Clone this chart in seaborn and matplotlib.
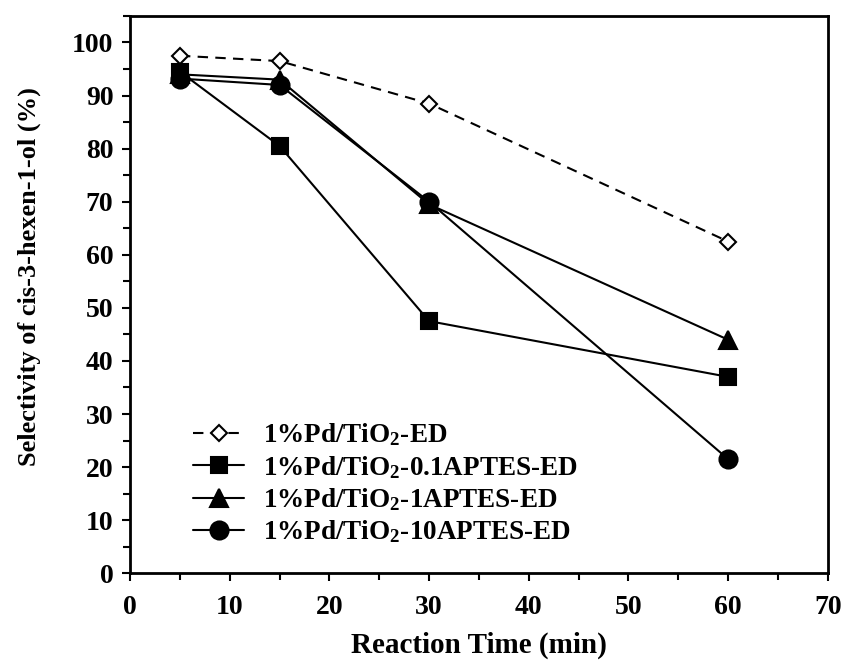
import numpy as np
import pandas as pd
import matplotlib
matplotlib.use("Agg")
import matplotlib.pyplot as plt
import seaborn as sns
from matplotlib.ticker import MultipleLocator

# Reaction times (min)
time_min = [5, 15, 30, 60]

# Selectivity of cis-3-hexen-1-ol (%) for each catalyst
sel_ed = [97.5, 96.5, 88.5, 62.5]
sel_01aptes = [94.5, 80.5, 47.5, 37.0]
sel_1aptes = [94.0, 93.0, 69.5, 44.0]
sel_10aptes = [93.2, 92.0, 70.0, 21.5]

series_labels = [
    "1%Pd/TiO$_\\mathbf{2}$-ED",
    "1%Pd/TiO$_\\mathbf{2}$-0.1APTES-ED",
    "1%Pd/TiO$_\\mathbf{2}$-1APTES-ED",
    "1%Pd/TiO$_\\mathbf{2}$-10APTES-ED",
]

x_ticks = [0, 10, 20, 30, 40, 50, 60, 70]
y_ticks = [0, 10, 20, 30, 40, 50, 60, 70, 80, 90, 100]

df = pd.DataFrame({
    "time": time_min * 4,
    "selectivity": sel_ed + sel_01aptes + sel_1aptes + sel_10aptes,
    "catalyst": sum([[lab] * len(time_min) for lab in series_labels], []),
})

sns.set_style("ticks", {"axes.edgecolor": "black", "text.color": "black",
                        "axes.labelcolor": "black", "xtick.color": "black",
                        "ytick.color": "black"})
plt.rcParams["font.family"] = ["Liberation Serif", "DejaVu Serif"]
plt.rcParams["mathtext.fontset"] = "custom"
plt.rcParams["mathtext.rm"] = "Liberation Serif:bold"
plt.rcParams["mathtext.bf"] = "Liberation Serif:bold"
plt.rcParams["mathtext.it"] = "Liberation Serif:bold"

fig, ax = plt.subplots(figsize=(8.56, 6.65), dpi=100)
fig.subplots_adjust(left=0.152, right=0.967, top=0.976, bottom=0.138)

styles = {
    series_labels[0]: dict(marker="D", ls=(0, (5, 3.5)), mfc="white", ms=8.5),
    series_labels[1]: dict(marker="s", ls="-", mfc="black", ms=11.5),
    series_labels[2]: dict(marker="^", ls="-", mfc="black", ms=13.5),
    series_labels[3]: dict(marker="o", ls="-", mfc="black", ms=13),
}

for lab in series_labels:
    sub = df[df["catalyst"] == lab]
    st = styles[lab]
    sns.lineplot(data=sub, x="time", y="selectivity", ax=ax, color="black",
                 marker=st["marker"], markersize=st["ms"], markerfacecolor=st["mfc"],
                 markeredgecolor="black", markeredgewidth=1.5, linewidth=1.5,
                 linestyle=st["ls"], label=lab, legend=False)

ax.set_xlim(0, 70)
ax.set_ylim(0, 105)
ax.set_xticks(x_ticks)
ax.set_yticks(y_ticks)
ax.xaxis.set_minor_locator(MultipleLocator(5))
ax.yaxis.set_minor_locator(MultipleLocator(5))
ax.tick_params(which="major", direction="out", length=6, width=1.5, labelsize=20,
               pad=6, colors="black")
ax.tick_params(which="minor", direction="out", length=5, width=1.5, colors="black")
ax.tick_params(axis="x", which="major", pad=10)
for lbl in ax.get_xticklabels() + ax.get_yticklabels():
    lbl.set_fontweight("bold")
for sp in ax.spines.values():
    sp.set_linewidth(2)
    sp.set_color("black")
    sp.set_visible(True)

ax.set_xlabel("Reaction Time (min)", fontsize=21, fontweight="bold", labelpad=8,
              color="black")
ax.set_ylabel("Selectivity of cis-3-hexen-1-ol (%)", fontsize=19, fontweight="bold",
              color="black")
ax.yaxis.set_label_coords(-0.128, 0.532)

leg = ax.legend(loc="lower left", bbox_to_anchor=(0.09, 0.05), frameon=False,
                prop={"family": "Liberation Serif", "weight": "bold", "size": 19.5},
                handlelength=1.9, handletextpad=0.7, labelspacing=0.2,
                borderpad=0, borderaxespad=0)
for t in leg.get_texts():
    t.set_color("black")

fig.savefig("out.png", dpi=100)
